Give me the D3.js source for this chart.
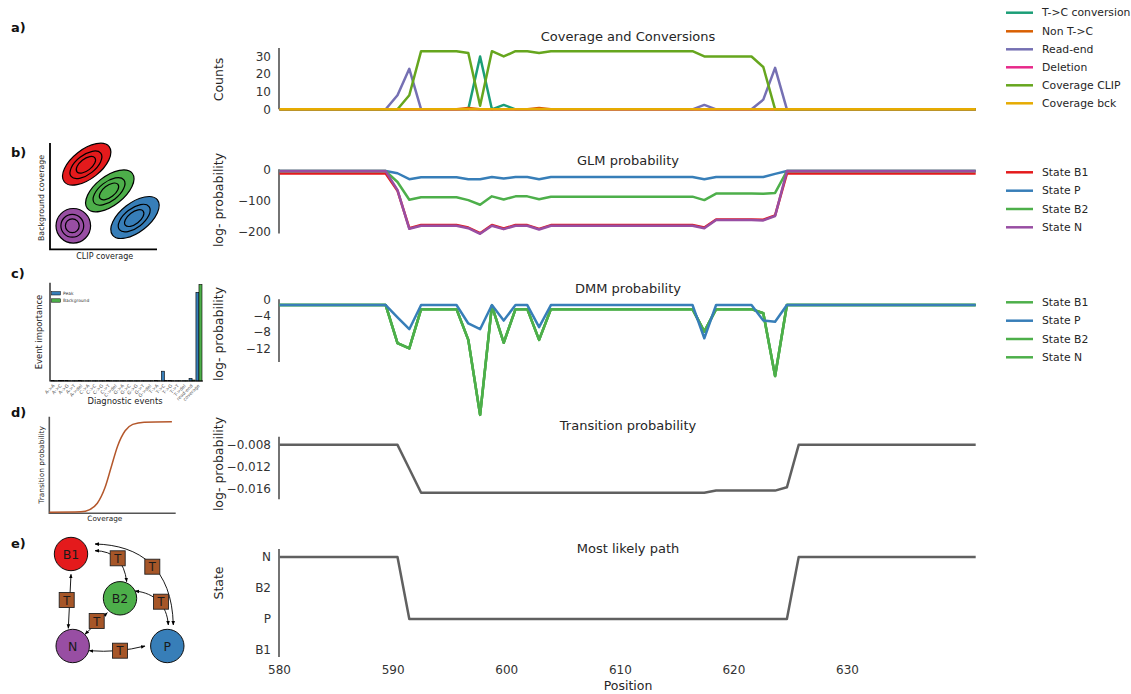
<!DOCTYPE html>
<html><head><meta charset="utf-8">
<script src="https://cdn.jsdelivr.net/npm/d3@7"></script>
<style>
body{margin:0;background:#fff}
svg text{font-family:'DejaVu Sans',sans-serif}
</style>
</head><body>
<svg id="c" width="1131" height="694"></svg>
<script>
// ---------- DATA ----------
const positionTicks = [580, 590, 600, 610, 620, 630];
const positionDomain = [580, 641.35];
const pointCount = 60;

// a) Coverage and Conversions (counts)
const tcConversion = [
 0,0,0,0,0,0,0,0,0,0,
 0,0,0,0,0,0,0,30,0,2.5,
 0,0,0,0,0,0,0,0,0,0,
 0,0,0,0,0,0,0,0,0,0,
 0,0,0,0,0,0,0,0,0,0,
 0,0,0,0,0,0,0,0,0,0];
const nonTC = [
 0,0,0,0,0,0,0,0,0,0,
 0,0,0,0,0,0,0.8,0,0,0,
 0,0,0.8,0,0,0,0,0,0,0,
 0,0,0,0,0,0,0,0,0,0,
 0,0,0,0,0,0,0,0,0,0,
 0,0,0,0,0,0,0,0,0,0];
const readEnd = [
 0,0,0,0,0,0,0,0,0,0,
 8,23,0,0,0,0,0,0,0,0,
 0,0,0,0,0,0,0,0,0,0,
 0,0,0,0,0,0,2.5,0,0,0,
 0,5.5,23.5,0,0,0,0,0,0,0,
 0,0,0,0,0,0,0,0,0,0];
const deletion = [
 0,0,0,0,0,0,0,0,0,0,
 0,0,0,0,0,0,0,0,0,0,
 0,0,0,0,0,0,0,0,0,0,
 0,0,0,0,0,0,0,0,0,0,
 0,0,0,0,0,0,0,0,0,0,
 0,0,0,0,0,0,0,0,0,0];
const coverageClip = [
 0,0,0,0,0,0,0,0,0,0,
 0,8,33,33,33,33,32,2,33,30,
 33,33,32,33,33,33,33,33,33,33,
 33,33,33,33,33,33,30,30,30,30,
 30,24,0,0,0,0,0,0,0,0,
 0,0,0,0,0,0,0,0,0,0];
const coverageBck = [
 0,0,0,0,0,0,0,0,0,0,
 0,0,0,0,0,0,0,0,0,0,
 0,0,0,0,0,0,0,0,0,0,
 0,0,0,0,0,0,0,0,0,0,
 0,0,0,0,0,0,0,0,0,0,
 0,0,0,0,0,0,0,0,0,0];
const countTicks = [0, 10, 20, 30];

// b) GLM log-probability
const glmB1 = [
 -13,-13,-13,-13,-13,-13,-13,-13,-13,-13,
 -68,-188,-178,-178,-178,-178,-186,-204,-178,-189,
 -178,-178,-190,-178,-178,-178,-178,-178,-178,-178,
 -178,-178,-178,-178,-178,-178,-186,-160,-160,-160,
 -160,-161,-147,-13,-13,-13,-13,-13,-13,-13,
 -13,-13,-13,-13,-13,-13,-13,-13,-13,-13];
const glmP = [
 -5,-5,-5,-5,-5,-5,-5,-5,-5,-5,
 -12,-31,-25,-25,-25,-25,-31,-31,-24,-29,
 -24,-24,-31,-24,-24,-24,-24,-24,-24,-24,
 -24,-24,-24,-24,-24,-24,-31,-24,-24,-24,
 -24,-24,-14,-5,-5,-5,-5,-5,-5,-5,
 -5,-5,-5,-5,-5,-5,-5,-5,-5,-5];
const glmB2 = [
 -5,-5,-5,-5,-5,-5,-5,-5,-5,-5,
 -40,-97,-89,-89,-89,-89,-98,-113,-86,-96,
 -86,-86,-95,-87,-87,-87,-87,-87,-87,-87,
 -87,-87,-87,-87,-87,-87,-98,-77,-77,-77,
 -77,-78,-75,-5,-5,-5,-5,-5,-5,-5,
 -5,-5,-5,-5,-5,-5,-5,-5,-5,-5];
const glmN = [
 -5,-5,-5,-5,-5,-5,-5,-5,-5,-5,
 -66,-190,-180,-180,-180,-180,-188,-206,-180,-191,
 -180,-180,-192,-180,-180,-180,-180,-180,-180,-180,
 -180,-180,-180,-180,-180,-180,-188,-162,-162,-162,
 -162,-163,-149,-5,-5,-5,-5,-5,-5,-5,
 -5,-5,-5,-5,-5,-5,-5,-5,-5,-5];
const glmTicks = [0, -100, -200];

// c) DMM log-probability
const dmmB1 = [
 -1.4,-1.4,-1.4,-1.4,-1.4,-1.4,-1.4,-1.4,-1.4,-1.4,
 -10.7,-12,-2.4,-2.4,-2.4,-2.4,-9.9,-28.2,-1.6,-10.6,
 -2.4,-2.4,-9.9,-2.4,-2.4,-2.4,-2.4,-2.4,-2.4,-2.4,
 -2.4,-2.4,-2.4,-2.4,-2.4,-2.4,-7.9,-2.4,-2.4,-2.4,
 -2.4,-3.4,-18.7,-1.4,-1.4,-1.4,-1.4,-1.4,-1.4,-1.4,
 -1.4,-1.4,-1.4,-1.4,-1.4,-1.4,-1.4,-1.4,-1.4,-1.4];
const dmmP = [
 -1.4,-1.4,-1.4,-1.4,-1.4,-1.4,-1.4,-1.4,-1.4,-1.4,
 -4.4,-7.3,-1.4,-1.4,-1.4,-1.4,-5.9,-7.3,-1.4,-5.2,
 -1.4,-1.4,-6.8,-1.4,-1.4,-1.4,-1.4,-1.4,-1.4,-1.4,
 -1.4,-1.4,-1.4,-1.4,-1.4,-1.4,-9.5,-1.4,-1.4,-1.4,
 -1.4,-5.2,-5.5,-1.4,-1.4,-1.4,-1.4,-1.4,-1.4,-1.4,
 -1.4,-1.4,-1.4,-1.4,-1.4,-1.4,-1.4,-1.4,-1.4,-1.4];
const dmmB2 = dmmB1;
const dmmN = dmmB1;
const dmmTicks = [0, -4, -8, -12];

// d) Transition log-probability
const transition = [
 -0.008,-0.008,-0.008,-0.008,-0.008,-0.008,-0.008,-0.008,-0.008,-0.008,
 -0.008,-0.0124,-0.0168,-0.0168,-0.0168,-0.0168,-0.0168,-0.0168,-0.0168,-0.0168,
 -0.0168,-0.0168,-0.0168,-0.0168,-0.0168,-0.0168,-0.0168,-0.0168,-0.0168,-0.0168,
 -0.0168,-0.0168,-0.0168,-0.0168,-0.0168,-0.0168,-0.0168,-0.0164,-0.0164,-0.0164,
 -0.0164,-0.0164,-0.0164,-0.0158,-0.008,-0.008,-0.008,-0.008,-0.008,-0.008,
 -0.008,-0.008,-0.008,-0.008,-0.008,-0.008,-0.008,-0.008,-0.008,-0.008];
const transitionTicks = [-0.008, -0.012, -0.016];

// e) Most likely path
const stateCategories = ['B1', 'P', 'B2', 'N'];
const path = [
 'N','N','N','N','N','N','N','N','N','N',
 'N','P','P','P','P','P','P','P','P','P',
 'P','P','P','P','P','P','P','P','P','P',
 'P','P','P','P','P','P','P','P','P','P',
 'P','P','P','P','N','N','N','N','N','N',
 'N','N','N','N','N','N','N','N','N','N'];

// schematic c) event importance
const eventCategories = ['A->A','A->C','A->G','A->T','A->del','C->A','C->C','C->G','C->T','C->del',
 'G->A','G->C','G->G','G->T','G->del','T->A','T->C','T->G','T->T','T->del','read-end','coverage'];
const eventPeak = [0.004,0.006,0.004,0.003,0.004,0.003,0.003,0.003,0.004,0.003,
 0.003,0.003,0.003,0.003,0.003,0.004,0.10,0.004,0.003,0.003,0.027,0.905];
const eventBackground = [0.003,0.004,0.003,0.003,0.003,0.003,0.003,0.003,0.003,0.003,
 0.003,0.003,0.003,0.003,0.003,0.003,0.004,0.003,0.003,0.003,0.01,0.985];

// schematic d) transition curve (coverage, probability)
const curveCoverage = [0, 25, 32, 38, 44, 49, 54, 60, 66, 75, 97];
const curveProb = [0, 0.005, 0.03, 0.1, 0.27, 0.5, 0.73, 0.9, 0.97, 0.995, 1];

// ---------- DRAW ----------
const svg = d3.select('#c');
const TXT = '#262626';
const xIdx = d3.scaleLinear().domain([0, pointCount - 1]).range([279.5, 975.7]);
const xPos = d3.scaleLinear().domain(positionDomain).range([279, 976]);
const idx = d3.range(pointCount);

function spine(top, bottom) {
  svg.append('line').attr('x1', 279).attr('x2', 279).attr('y1', top).attr('y2', bottom)
    .attr('stroke', '#000').attr('stroke-width', 1.1);
}
function yAxis(scale, ticks, fmt) {
  const g = svg.append('g').attr('transform', 'translate(279,0)')
    .call(d3.axisLeft(scale).tickValues(ticks).tickFormat(fmt).tickSize(0).tickPadding(8));
  g.select('.domain').remove();
  g.attr('font-family', 'DejaVu Sans').attr('font-size', 12).attr('color', '#333');
  return g;
}
function title(txt, y) {
  svg.append('text').attr('x', 628).attr('y', y).attr('text-anchor', 'middle')
    .attr('dominant-baseline', 'central').attr('font-size', 13).attr('fill', TXT).text(txt);
}
function ylabel(txt, y) {
  svg.append('text').attr('transform', `translate(218,${y}) rotate(-90)`).attr('text-anchor', 'middle')
    .attr('dominant-baseline', 'central').attr('font-size', 12.5).attr('fill', TXT).text(txt);
}
function series(data, y, color, w) {
  svg.append('path').datum(idx).attr('fill', 'none').attr('stroke', color)
    .attr('stroke-width', w || 2.5).attr('stroke-linejoin', 'round')
    .attr('d', d3.line().x(i => xIdx(i)).y(i => y(data[i])));
}
function legend(items, ys) {
  items.forEach((it, k) => {
    svg.append('line').attr('x1', 1006).attr('x2', 1033).attr('y1', ys[k]).attr('y2', ys[k])
      .attr('stroke', it[1]).attr('stroke-width', 2.5);
    svg.append('text').attr('x', 1042).attr('y', ys[k]).attr('dominant-baseline', 'central')
      .attr('font-size', 10.8).attr('fill', TXT).text(it[0]);
  });
}
function letter(t, y) {
  svg.append('text').attr('x', 11).attr('y', y).attr('dominant-baseline', 'central')
    .attr('font-size', 13).attr('font-weight', 'bold').attr('fill', '#111').text(t);
}

// Panel a
const yA = d3.scaleLinear().domain([0, 34.8]).range([109.3, 48]);
spine(48, 109.3);
yAxis(yA, countTicks, d3.format('d'));
title('Coverage and Conversions', 36);
ylabel('Counts', 79.5);
const colA = ['#1b9e77', '#d95f02', '#7570b3', '#e7298a', '#66a61e', '#e6ab02'];
[tcConversion, nonTC, readEnd, deletion, coverageClip, coverageBck].forEach((d, k) => series(d, yA, colA[k]));
legend([['T->C conversion', colA[0]], ['Non T->C', colA[1]], ['Read-end', colA[2]], ['Deletion', colA[3]],
  ['Coverage CLIP', colA[4]], ['Coverage bck', colA[5]]], [12.7, 31.3, 49.3, 67.3, 85.3, 103.3]);

// Panel b
const set1 = { red: '#e41a1c', blue: '#377eb8', green: '#4daf4a', purple: '#984ea3' };
const yB = d3.scaleLinear().domain([-205, 0]).range([233.5, 169.5]);
spine(169.3, 233.5);
yAxis(yB, glmTicks, d3.format('d'));
title('GLM probability', 160);
ylabel('log- probability', 200);
series(glmB1, yB, set1.red); series(glmP, yB, set1.blue); series(glmB2, yB, set1.green); series(glmN, yB, set1.purple);
legend([['State B1', set1.red], ['State P', set1.blue], ['State B2', set1.green], ['State N', set1.purple]],
  [172.3, 190.7, 209, 227.3]);

// Panel c
const yC = d3.scaleLinear().domain([-15.3, 0]).range([362, 299.3]);
spine(299.3, 362);
yAxis(yC, dmmTicks, d3.format('d'));
title('DMM probability', 288);
ylabel('log- probability', 334);
series(dmmB1, yC, set1.green); series(dmmB2, yC, set1.green); series(dmmN, yC, set1.green);
series(dmmP, yC, set1.blue);
legend([['State B1', set1.green], ['State P', set1.blue], ['State B2', set1.green], ['State N', set1.green]],
  [302.3, 320.7, 339, 357.3]);

// Panel d
const yD = d3.scaleLinear().domain([-0.018, -0.0065]).range([499.3, 436.7]);
spine(436.7, 499.3);
yAxis(yD, transitionTicks, d3.format('.3f'));
title('Transition probability', 425);
ylabel('log- probability', 464);
series(transition, yD, '#606060');

// Panel e
const yE = d3.scalePoint().domain(stateCategories).range([650, 557]);
spine(549, 657);
yAxis(yE, stateCategories, d => d);
title('Most likely path', 548);
ylabel('State', 583);
series(path, yE, '#606060');
const xg = svg.append('g').attr('transform', 'translate(0,657)')
  .call(d3.axisBottom(xPos).tickValues(positionTicks).tickFormat(d3.format('d')).tickSize(0).tickPadding(8));
xg.select('.domain').remove();
xg.attr('font-family', 'DejaVu Sans').attr('font-size', 12).attr('color', '#333');
svg.append('text').attr('x', 628).attr('y', 685).attr('text-anchor', 'middle').attr('dominant-baseline', 'central')
  .attr('font-size', 12.5).attr('fill', TXT).text('Position');

// ---------- LEFT SCHEMATICS ----------
letter('a)', 27); letter('b)', 152); letter('c)', 273); letter('d)', 412); letter('e)', 543);

function smallLabel(t, x, y, size, rot) {
  svg.append('text').attr('transform', `translate(${x},${y})` + (rot ? ' rotate(-90)' : ''))
    .attr('text-anchor', 'middle').attr('dominant-baseline', 'central').attr('font-size', size)
    .attr('fill', '#222').text(t);
}
// b) ellipses
svg.append('path').attr('d', 'M50,143V249.3H157').attr('fill', 'none').attr('stroke', '#000').attr('stroke-width', 1.8);
smallLabel('Background coverage', 41.5, 198, 7.9, true);
smallLabel('CLIP coverage', 104.7, 256, 8, false);
const blobs = [
  { cx: 86.7, cy: 164.2, rx: 28.5, ry: 14.5, c: set1.red, ang: -38 },
  { cx: 109.8, cy: 190.8, rx: 28.5, ry: 14.5, c: set1.green, ang: -38 },
  { cx: 135, cy: 217.5, rx: 28.5, ry: 14.5, c: set1.blue, ang: -38 },
  { cx: 73.3, cy: 225.8, rx: 17.3, ry: 17.3, c: set1.purple, ang: 0 }
];
blobs.forEach(b => {
  const g = svg.append('g').attr('transform', `translate(${b.cx},${b.cy}) rotate(${b.ang})`);
  g.append('ellipse').attr('rx', b.rx).attr('ry', b.ry).attr('fill', b.c).attr('stroke', '#000').attr('stroke-width', 1.2);
  [0.66, 0.4].forEach(s => g.append('ellipse').attr('cx', -1).attr('rx', b.rx * s).attr('ry', b.ry * s)
    .attr('fill', 'none').attr('stroke', '#000').attr('stroke-width', 1.2));
});

// c) bar chart
const xEv = d3.scaleBand().domain(eventCategories).range([51, 202]).paddingInner(0.12);
const yEv = d3.scaleLinear().domain([0, 1]).range([381, 283]);
eventCategories.forEach((c, k) => {
  const bw = xEv.bandwidth() / 2;
  svg.append('rect').attr('x', xEv(c)).attr('y', yEv(eventPeak[k])).attr('width', bw)
    .attr('height', 381 - yEv(eventPeak[k])).attr('fill', set1.blue).attr('stroke', '#000').attr('stroke-width', 0.6);
  svg.append('rect').attr('x', xEv(c) + bw).attr('y', yEv(eventBackground[k])).attr('width', bw)
    .attr('height', 381 - yEv(eventBackground[k])).attr('fill', set1.green).attr('stroke', '#000').attr('stroke-width', 0.6);
  svg.append('text').attr('transform', `translate(${xEv(c) + bw},385) rotate(-45)`).attr('text-anchor', 'end')
    .attr('dominant-baseline', 'central').attr('font-size', 4.6).attr('fill', '#555').text(c);
});
svg.append('path').attr('d', 'M50,282.7V381H203').attr('fill', 'none').attr('stroke', '#000').attr('stroke-width', 1.2);
smallLabel('Event importance', 38.5, 332, 8.4, true);
smallLabel('Diagnostic events', 125, 400.7, 8.4, false);
[['Peak', set1.blue, 293.3], ['Background', set1.green, 300.5]].forEach(l => {
  svg.append('rect').attr('x', 51.5).attr('y', l[2] - 1.7).attr('width', 9).attr('height', 3.4)
    .attr('fill', l[1]).attr('stroke', '#000').attr('stroke-width', 0.5);
  svg.append('text').attr('x', 63).attr('y', l[2]).attr('dominant-baseline', 'central')
    .attr('font-size', 4.4).attr('fill', '#333').text(l[0]);
});

// d) transition curve
const xCv = d3.scaleLinear().domain([0, 100]).range([49.3, 175.7]);
const yCv = d3.scaleLinear().domain([0, 1]).range([512.3, 421.7]);
svg.append('path').attr('d', 'M49.3,416.7V513.3H175.7').attr('fill', 'none').attr('stroke', '#555').attr('stroke-width', 1.6);
svg.append('path').datum(d3.range(curveCoverage.length)).attr('fill', 'none').attr('stroke', '#b4572b').attr('stroke-width', 1.5)
  .attr('d', d3.line().x(i => xCv(curveCoverage[i])).y(i => yCv(curveProb[i])).curve(d3.curveMonotoneX));
smallLabel('Transition probability', 41.7, 465, 7.4, true);
smallLabel('Coverage', 104.8, 518.5, 7.3, false);

// e) state graph
const defs = svg.append('defs');
defs.append('marker').attr('id', 'ah').attr('viewBox', '0 0 10 10').attr('refX', 9).attr('refY', 5)
  .attr('markerWidth', 5).attr('markerHeight', 5).attr('orient', 'auto-start-reverse')
  .append('path').attr('d', 'M0,1L10,5L0,9z').attr('fill', '#000');
const arrows = [
  'M68.3,628.3L71,574.3',
  'M95,550.7Q123,551 126.7,581.7',
  'M95,544C140,545 172,568 173.3,625',
  'M135,591C155,593 167,605 168.3,625',
  'M107.3,612.7L85,634.3',
  'M89.3,650.7Q118,653 145,646'
];
arrows.forEach(d => svg.append('path').attr('d', d).attr('fill', 'none').attr('stroke', '#000')
  .attr('stroke-width', 0.9).attr('marker-start', 'url(#ah)').attr('marker-end', 'url(#ah)'));
const nodes = [
  ['B1', 71, 554, set1.red], ['B2', 120, 598.3, set1.green], ['N', 72.7, 646, set1.purple], ['P', 167.3, 646, set1.blue]
];
nodes.forEach(n => {
  svg.append('circle').attr('cx', n[1]).attr('cy', n[2]).attr('r', 16.7).attr('fill', n[3]).attr('stroke', '#111').attr('stroke-width', 1);
  svg.append('text').attr('x', n[1]).attr('y', n[2] + 0.5).attr('text-anchor', 'middle').attr('dominant-baseline', 'central')
    .attr('font-size', 12.5).attr('fill', '#1a1a1a').text(n[0]);
});
const tBoxes = [[117.7, 558.3], [152.3, 566.7], [66.7, 600], [161, 601.7], [96.7, 621], [120, 650.7]];
tBoxes.forEach(t => {
  svg.append('rect').attr('x', t[0] - 7.5).attr('y', t[1] - 7.5).attr('width', 15).attr('height', 15)
    .attr('fill', '#a65628').attr('stroke', '#222').attr('stroke-width', 0.9);
  svg.append('text').attr('x', t[0]).attr('y', t[1] + 0.5).attr('text-anchor', 'middle').attr('dominant-baseline', 'central')
    .attr('font-size', 11.5).attr('fill', '#1a1a1a').text('T');
});
</script>
</body></html>
